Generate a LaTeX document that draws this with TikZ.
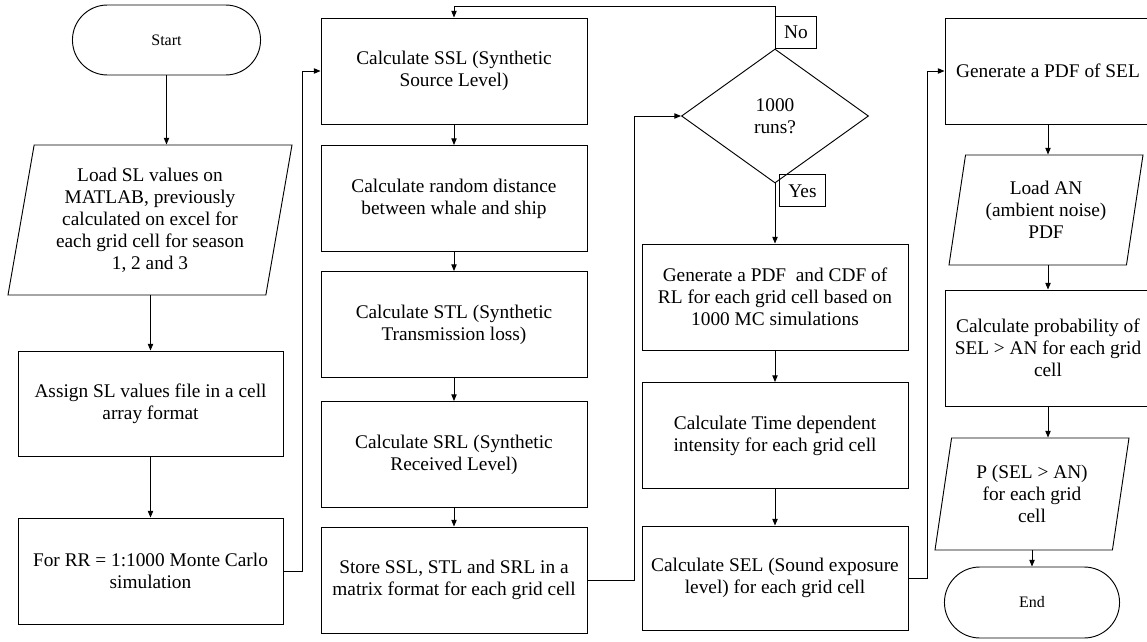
\documentclass[tikz,border=0pt]{standalone}
\usepackage{fontspec}
\setmainfont{Liberation Serif}
\usepackage{tikz}
\usetikzlibrary{arrows.meta,shapes.geometric,shapes.misc,positioning,calc}
\newcommand{\flowfont}{\fontsize{14.5pt}{16.5pt}\selectfont}
\newcommand{\termfont}{\fontsize{12pt}{14pt}\selectfont}
\tikzstyle{arrow} = [->,>={Triangle[length=5pt,width=4pt]}]
\tikzstyle{procbox} = [rectangle, draw, minimum width=199.5pt, minimum height=79.5pt, align=center, font=\flowfont]
\tikzstyle{sidebox} = [rectangle, draw, minimum width=154.5pt, minimum height=79.5pt, align=center, font=\flowfont]
\tikzstyle{iobox} = [trapezium, trapezium left angle=77, trapezium right angle=103, trapezium stretches body, draw, align=center, font=\flowfont]
\tikzstyle{termbox} = [rounded rectangle, draw, align=center, font=\termfont]
\tikzstyle{decbox} = [diamond, draw, inner sep=0pt, minimum width=140.25pt, minimum height=100.5pt, align=center, font=\flowfont]
\tikzstyle{tagbox} = [rectangle, draw, inner sep=1pt, minimum height=24pt, font=\flowfont]

\begin{document}
\begin{tikzpicture}[x=0.75pt, y=-0.75pt, line width=0.7pt]
\useasboundingbox (0,0) rectangle (1147,642);

% first column
\node[termbox, minimum width=147.75pt, minimum height=52.5pt] (start) at (166.5,40) {Start};
\node[iobox, minimum width=213pt, minimum height=112.5pt] (loadsl) at (150,220) {Load SL values on\\MATLAB, previously\\calculated on excel for\\each grid cell for season\\1, 2 and 3};
\node[procbox, minimum width=198.75pt, minimum height=78.75pt] (assign) at (150.5,403.5) {Assign SL values file in a cell\\array format};
\node[procbox, minimum width=198.75pt] (forrr) at (150.5,571) {For RR = 1:1000 Monte Carlo\\simulation};

% simulation loop
\node[procbox] (ssl) at (454,71) {Calculate SSL (Synthetic\\Source Level)};
\node[procbox] (dist) at (454,198.5) {Calculate random distance\\between whale and ship};
\node[procbox] (stl) at (454,324.5) {Calculate STL (Synthetic\\Transmission loss)};
\node[procbox] (srl) at (454,454.5) {Calculate SRL (Synthetic\\Received Level)};
\node[procbox] (store) at (454,580) {Store SSL, STL and SRL in a\\matrix format for each grid cell};

% decision and received level
\node[decbox] (runs) at (775,116) {1000\\runs?};
\node[tagbox, minimum width=30.75pt, anchor=south west] (no) at (runs.north) {No};
\node[tagbox, minimum width=34.5pt, anchor=north west] (yes) at ($(runs.south)+(4,-9)$) {Yes};
\node[procbox] (pdfcdf) at (775,297) {Generate a PDF \ and CDF of\\RL for each grid cell based on\\1000 MC simulations};
\node[procbox] (time) at (775,435.5) {Calculate Time dependent\\intensity for each grid cell};
\node[procbox, minimum height=78pt] (sel) at (775,578) {Calculate SEL (Sound exposure\\level) for each grid cell};

% last column
\node[sidebox] (genpdf) at (1048,71) {Generate a PDF of SEL};
\node[iobox, trapezium left angle=76, trapezium right angle=104, minimum width=145.5pt, minimum height=82.5pt] (loadan) at (1046,210) {Load AN\\(ambient noise)\\PDF};
\node[sidebox, minimum height=87pt] (calcprob) at (1048,348) {Calculate probability of\\SEL > AN for each grid\\cell};
\node[iobox, trapezium left angle=76, trapezium right angle=104, minimum width=145.5pt, minimum height=84pt] (pan) at (1032,494) {P (SEL > AN)\\for each grid\\cell};
\node[termbox, minimum width=138pt, minimum height=53.25pt] (endnode) at (1032,602.5) {End};

% Arrows
\draw[arrow] (start.south) -- (start.south |- loadsl.north);
\draw[arrow] (assign.north |- loadsl.south) -- (assign.north);
\draw[arrow] (assign) -- (forrr);
\draw[arrow] (forrr.east) -- ++(19,0) |- (ssl.west);
\draw[arrow] (ssl) -- (dist);
\draw[arrow] (dist) -- (stl);
\draw[arrow] (stl) -- (srl);
\draw[arrow] (srl) -- (store);
\draw[arrow] (store.east) -- ++(47,0) |- (runs.west);
\draw[arrow] (runs.north) -- ++(0,-42) -| (ssl.north);
\draw[arrow] (runs.south) -- (pdfcdf.north);
\draw[arrow] (pdfcdf) -- (time);
\draw[arrow] (time) -- (sel);
\draw[arrow] (sel.east) -- ++(19,0) |- (genpdf.west);
\draw[arrow] (genpdf.south) -- (genpdf.south |- loadan.north);
\draw[arrow] (calcprob.north |- loadan.south) -- (calcprob.north);
\draw[arrow] (calcprob.south) -- (calcprob.south |- pan.north);
\draw[arrow] (endnode.north |- pan.south) -- (endnode.north);
\end{tikzpicture}
\end{document}
